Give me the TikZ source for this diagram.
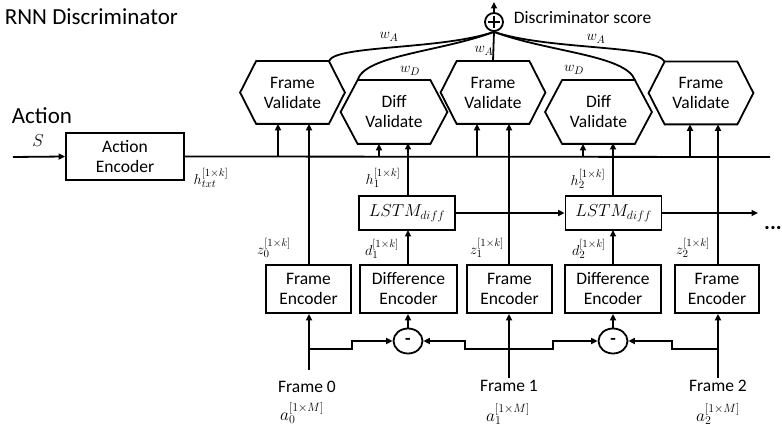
\documentclass[tikz,border=0pt]{standalone}
\usepackage{fontspec}
\setmainfont{Carlito}
\usetikzlibrary{arrows.meta,calc,shapes.geometric}
\newcommand\hexdraw[2]{\draw (#1.west) -- ([xshift=#2]#1.north west) -- ([xshift=-#2]#1.north east) -- (#1.east) -- ([xshift=-#2]#1.south east) -- ([xshift=#2]#1.south west) -- cycle;}
\begin{document}
\begin{tikzpicture}[x=1pt,y=-1pt, line width=1.8pt,
  txt/.style={font=\fontsize{17.5}{20}\selectfont, inner sep=0, align=center},
  box/.style={txt, draw, minimum height=48pt},
  hexa/.style={txt, minimum width=103pt, minimum height=61pt},
  lstm/.style={draw, minimum width=96pt, minimum height=34pt, inner sep=0, font=\fontsize{18.5}{18.5}\selectfont},
  arr/.style={-{Triangle[length=6.5pt,width=6pt]}},
  lab/.style={font=\fontsize{15.5}{15.5}\selectfont, inner sep=0},
  biglab/.style={font=\fontsize{18.5}{18.5}\selectfont, inner sep=0},
  minus/.style={ellipse, draw, minimum width=29pt, minimum height=25pt, inner sep=0, font=\fontsize{18}{18}\selectfont\bfseries}
]
\useasboundingbox (0,0) rectangle (782,427);

% titles
\node[anchor=west, font=\fontsize{23}{23}\selectfont, inner sep=0] (title) at (4,17) {RNN Discriminator};
\node[anchor=west, font=\fontsize{23}{23}\selectfont, inner sep=0] (action) at (11,116) {Action};
\node[biglab] (S) at (38,141) {$S$};

% action encoder
\node[box, minimum width=118pt, minimum height=47pt] (ae) at (125,156.5) {Action\\Encoder};
\coordinate (sin) at (13,157);
\coordinate (mainend) at (770,157);
\draw[arr] (sin) -- (ae.west);
\draw (ae.east) -- (mainend);
\node[lab] (htxt) at (211,178) {$h_{txt}^{[1\times k]}$};

% validate hexagons
\node[hexa] (fv1) at (292.5,92.5) {Frame\\Validate};
\node[hexa] (fv2) at (493,92.5) {Frame\\Validate};
\node[hexa] (fv3) at (701,93) {Frame\\Validate};
\node[hexa, minimum width=105pt, minimum height=62pt] (dv1) at (394,112) {Diff\\Validate};
\node[hexa, minimum width=105pt, minimum height=62pt] (dv2) at (598.5,112) {Diff\\Validate};
\hexdraw{fv1}{16pt}
\hexdraw{fv2}{16pt}
\hexdraw{fv3}{16pt}
\hexdraw{dv1}{17pt}
\hexdraw{dv2}{17pt}

% encoders
\node[box, minimum width=85pt] (fe1) at (308.5,289) {Frame\\Encoder};
\node[box, minimum width=97pt] (de1) at (408.5,289) {Difference\\Encoder};
\node[box, minimum width=85pt] (fe2) at (509.5,289) {Frame\\Encoder};
\node[box, minimum width=96pt] (de2) at (613,289) {Difference\\Encoder};
\node[box, minimum width=84pt] (fe3) at (717,289) {Frame\\Encoder};

% LSTMs
\node[lstm] (l1) at (407,213) {$LSTM_{diff}$};
\node[lstm] (l2) at (613.5,213) {$LSTM_{diff}$};
\coordinate (lend) at (758,213);
\node[font=\fontsize{22}{22}\selectfont\bfseries, inner sep=0] (dots) at (773,228) {...};

% frames
\node[txt] (f0) at (307,387) {Frame 0};
\node[txt] (f1) at (509,386) {Frame 1};
\node[txt] (f2) at (718,386) {Frame 2};
\node[biglab] (a0) at (302,413) {$a_0^{[1\times M]}$};
\node[biglab] (a1) at (508,414) {$a_1^{[1\times M]}$};
\node[biglab] (a2) at (718,414) {$a_2^{[1\times M]}$};

% minus nodes
\node[minus] (m1) at (408,341) {-};
\node[minus] (m2) at (613,341) {-};

% plus node
\node[circle, draw, minimum size=18pt, inner sep=0] (plus) at (494,22) {};
\draw ($(plus.center)+(-6,0)$) -- ($(plus.center)+(6,0)$);
\draw ($(plus.center)+(0,-6)$) -- ($(plus.center)+(0,6)$);
\coordinate (ptop) at (494,2);
\draw[arr] (plus.north) -- (ptop);
\node[anchor=west, txt] (score) at (513,18) {Discriminator score};

% frame lines
\coordinate (f0b) at (309,349);
\coordinate (f1b) at (509,349);
\coordinate (f2b) at (718,349);
\coordinate (f0s) at (309,370);
\coordinate (f1s) at (509,378);
\coordinate (f2s) at (718,378);
\draw[arr] (f0s) -- (f0s |- fe1.south);
\draw[arr] (f1s) -- (f1s |- fe2.south);
\draw[arr] (f2s) -- (f2s |- fe3.south);
\draw[arr] (f0b) -- (352,349) -- (352,341) -- (m1.west);
\draw[arr] (f1b) -- (465,349) -- (465,341) -- (m1.east);
\draw[arr] (f1b) -- (553,349) -- (553,341) -- (m2.west);
\draw[arr] (f2b) -- (672,349) -- (672,341) -- (m2.east);
\draw[arr] (m1.north) -- (m1.north |- de1.south);
\draw[arr] (m2.north) -- (m2.north |- de2.south);

% encoders up
\draw[arr] (f0b |- fe1.north) -- (f0b |- fv1.south);
\draw[arr] (f1b |- fe2.north) -- (f1b |- fv2.south);
\draw[arr] (f2b |- fe3.north) -- (f2b |- fv3.south);
\draw[arr] (408,265) -- (408,230);
\draw[arr] (613,265) -- (613,230);
\draw[arr] (408,196) -- (408,143);
\draw[arr] (613,196) -- (613,143);
\draw[arr] (l1.east) -- (l2.west);
\draw[arr] (l2.east) -- (lend);

% main line up
\coordinate (u1) at (278,157);
\coordinate (u2) at (379,157);
\coordinate (u3) at (477,157);
\coordinate (u4) at (583,157);
\coordinate (u5) at (690,157);
\draw[arr] (u1) -- (u1 |- fv1.south);
\draw[arr] (u2) -- (u2 |- dv1.south);
\draw[arr] (u3) -- (u3 |- fv2.south);
\draw[arr] (u4) -- (u4 |- dv2.south);
\draw[arr] (u5) -- (u5 |- fv3.south);

% labels
\node[lab] (z0) at (274,248) {$z_0^{[1\times k]}$};
\node[lab] (z1) at (487,248) {$z_1^{[1\times k]}$};
\node[lab] (z2) at (693,248) {$z_2^{[1\times k]}$};
\node[lab] (d1) at (382,249) {$d_1^{[1\times k]}$};
\node[lab] (d2) at (589,249) {$d_2^{[1\times k]}$};
\node[lab] (h1) at (383,178) {$h_1^{[1\times k]}$};
\node[lab] (h2) at (588,179) {$h_2^{[1\times k]}$};

% weighted curves
\draw ([xshift=-16pt]fv1.north east) .. controls (335,45) and (440,50) .. (plus.south);
\draw ([xshift=17pt]dv1.north west) .. controls (365,55) and (440,52) .. (plus.south);
\draw (fv2.north) -- (plus.south);
\draw ([xshift=-17pt]dv2.north east) .. controls (626,55) and (548,52) .. (plus.south);
\draw ([xshift=16pt]fv3.north west) .. controls (656,45) and (548,50) .. (plus.south);
\node[lab] (wa1) at (389,37) {$w_A$};
\node[lab] (wd1) at (410,71) {$w_D$};
\node[lab] (wa2) at (484,51) {$w_A$};
\node[lab] (wd2) at (574,70) {$w_D$};
\node[lab] (wa3) at (596,39) {$w_A$};
\end{tikzpicture}
\end{document}
